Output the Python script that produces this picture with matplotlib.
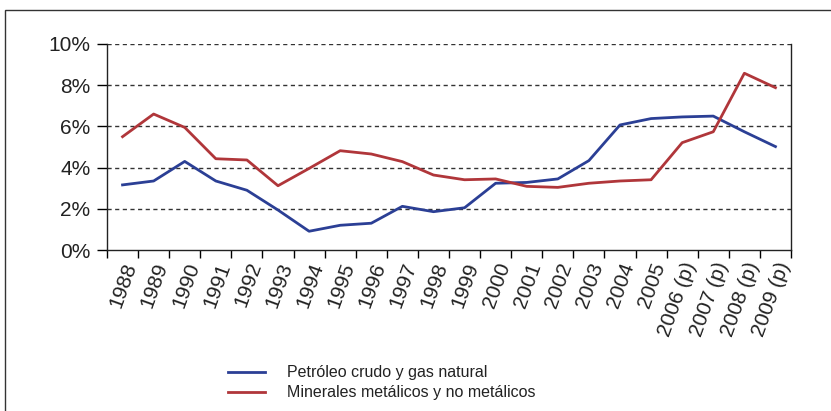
import numpy as np
import matplotlib
matplotlib.use("Agg")
import matplotlib.pyplot as plt
from matplotlib.patches import Rectangle
from matplotlib.ticker import FuncFormatter

plt.rcParams['font.family'] = ['Liberation Sans', 'DejaVu Sans']

years = ["1988", "1989", "1990", "1991", "1992", "1993", "1994", "1995", "1996",
         "1997", "1998", "1999", "2000", "2001", "2002", "2003", "2004", "2005",
         "2006 (p)", "2007 (p)", "2008 (p)", "2009 (p)"]
petroleo = [3.16, 3.35, 4.30, 3.35, 2.90, 1.94, 0.91, 1.20, 1.30, 2.12, 1.86, 2.05,
            3.24, 3.28, 3.45, 4.34, 6.07, 6.38, 6.46, 6.50, 5.74, 5.02]
minerales = [5.50, 6.60, 5.95, 4.43, 4.37, 3.12, 3.96, 4.82, 4.66, 4.29, 3.64, 3.41,
             3.45, 3.09, 3.04, 3.24, 3.35, 3.41, 5.21, 5.74, 8.58, 7.88]

W, H = 831, 411
fig = plt.figure(figsize=(W / 100, H / 100), dpi=100)
ax = fig.add_axes([107 / W, 1 - 250 / H, (791 - 107) / W, (250 - 44) / H])

# outer frame
fig.patches.append(Rectangle((5 / W, -0.1), 1.2, 1.1 - 10 / H, transform=fig.transFigure,
                             fill=False, edgecolor='#333333', linewidth=1.0))

x = np.arange(len(years))
ax.plot(x, petroleo, color='#2b3f95', lw=2.0, label='Petróleo crudo y gas natural')
ax.plot(x, minerales, color='#b0363a', lw=2.0, label='Minerales metálicos y no metálicos')

ax.set_xlim(-0.5, len(years) - 0.5)
ax.set_ylim(0, 10)
ax.set_yticks([0, 2, 4, 6, 8, 10])
ax.yaxis.set_major_formatter(FuncFormatter(lambda v, p: f"{v:.0f}%"))
ax.tick_params(axis='y', labelsize=15, length=7, width=1, direction='out', pad=5,
               labelcolor='#222222')
for v in [2, 4, 6, 8, 10]:
    ax.axhline(v, color='#333333', lw=1.0, ls=(0, (3, 2.5)), zorder=0)

ax.set_xticks(x)
ax.set_xticklabels(years, rotation=70, ha='right', rotation_mode='anchor', fontsize=15,
                   color='#222222')
ax.set_xticks(np.arange(-0.5, len(years)), minor=True)
ax.tick_params(axis='x', which='major', length=0, pad=7)
ax.tick_params(axis='x', which='minor', length=6, width=1, direction='out')

ax.spines['top'].set_visible(False)
for s in ['left', 'bottom', 'right']:
    ax.spines[s].set_color('#222222')
    ax.spines[s].set_linewidth(1.0)

fig.legend(loc='upper left', bbox_to_anchor=(214 / W, 1 - 351 / H), frameon=False,
           fontsize=11.5, handlelength=2.3, handletextpad=1.4, labelspacing=0.3,
           labelcolor='#222222')

fig.savefig("out.png", dpi=100)
